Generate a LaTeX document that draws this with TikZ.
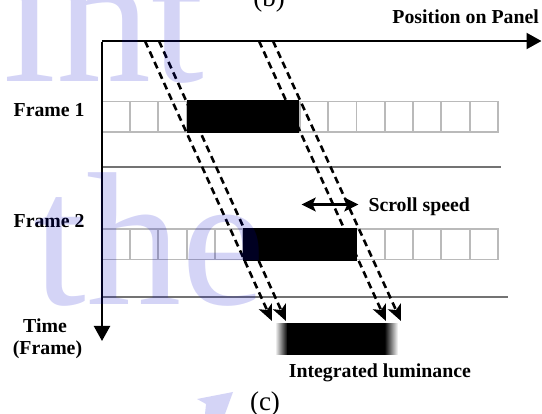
\documentclass[tikz,border=0pt]{standalone}
\usepackage{fontspec}
\setmainfont{Liberation Serif}
\usetikzlibrary{arrows.meta}

\begin{document}
\begin{tikzpicture}[x=1pt,y=-1pt,
  lbl/.style={font=\fontsize{19.8}{21}\selectfont\bfseries, inner sep=0pt},
  subcap/.style={font=\fontsize{27}{29}\selectfont, inner sep=0pt},
  axisline/.style={line width=2.2pt, -{Triangle[length=15pt,width=16pt]}},
  cellbox/.style={draw=black!27, line width=1.8pt},
  sepline/.style={draw=black!55, line width=2pt},
  blockbar/.style={fill=black, draw=none, inner sep=0pt, anchor=north west},
  track/.style={line width=2.6pt, dash pattern=on 7pt off 4.5pt,
    -{Stealth[length=16pt,width=14pt,inset=4pt]}},
  speedarrow/.style={line width=2.2pt,
    {Stealth[length=14pt,width=14pt,inset=3pt]}-{Stealth[length=14pt,width=14pt,inset=3pt]}},
  wmtext/.style={font=\fontsize{190}{190}\selectfont, text=blue!80!black,
    text opacity=0.17, inner sep=0pt},
]
\useasboundingbox (0,0) rectangle (542,414);

% separators between frames
\coordinate (s1a) at (102,166.7);
\coordinate (s1b) at (501,166.7);
\coordinate (s2a) at (102,296.7);
\coordinate (s2b) at (508,296.7);
\draw[sepline] (s1a) -- (s1b);
\draw[sepline] (s2a) -- (s2b);

% pixel rows of the panel
\foreach \i in {0,...,13}{
  \draw[cellbox] (101.7+\i*28.3,101.5) rectangle +(28.3,30.5);
  \draw[cellbox] (101.7+\i*28.3,229) rectangle +(28.3,30.5);
}

% moving image in each frame
\node[blockbar, minimum width=112.5pt, minimum height=33pt] (bar1) at (186.6,100.3) {};
\node[blockbar, minimum width=113.5pt, minimum height=33pt] (bar2) at (243,228) {};

% integrated luminance seen by the eye, with blurred edges
\shade[left color=white, right color=black] (275,323.3) rectangle (287.5,355);
\node[blockbar, minimum width=98pt, minimum height=31.7pt] (sum) at (287,323.3) {};
\shade[left color=black, right color=white] (384.5,323.3) rectangle (398,355);

% axes
\coordinate (origin) at (102,41);
\coordinate (xend) at (541.5,41);
\coordinate (yend) at (102,341);
\draw[axisline] (origin) -- (xend);
\draw[axisline] ([yshift=-1.1pt]origin) -- (yend);

% eye tracking lines
\coordinate (t1a) at (145,41);  \coordinate (t1b) at (272,321);
\coordinate (t2a) at (159,41);  \coordinate (t2b) at (286,321);
\coordinate (t3a) at (259,41);  \coordinate (t3b) at (386,321);
\coordinate (t4a) at (273,41);  \coordinate (t4b) at (401,321);
\draw[track] (t1a) -- (t1b);
\draw[track] (t2a) -- (t2b);
\draw[track] (t3a) -- (t3b);
\draw[track] (t4a) -- (t4b);

% scroll speed
\coordinate (sp1) at (301.7,204.5);
\coordinate (sp2) at (358.3,204.5);
\draw[speedarrow] (sp1) -- (sp2);

% labels
\node[lbl, anchor=base east] (pos) at (539,24) {Position on Panel};
\node[lbl, anchor=base west] (f1) at (13.5,116.7) {Frame 1};
\node[lbl, anchor=base west] (f2) at (13.5,227.3) {Frame 2};
\node[lbl, anchor=base] (time) at (45,333) {Time};
\node[lbl, anchor=base] (frm) at (47.5,355) {(Frame)};
\node[lbl, anchor=base west] (speed) at (368.3,211.5) {Scroll speed};
\node[lbl, anchor=base west] (lum) at (288.7,377.5) {Integrated luminance};
\node[subcap, anchor=base] (capb) at (269,7) {(b)};
\node[subcap, anchor=base] (capc) at (265,410.5) {(c)};

% watermark
\node[wmtext, anchor=base west] (wm1) at (3,82) {int};
\node[wmtext, anchor=base west] (wm2) at (33,305) {the};
\fill[blue!80!black, opacity=0.17] (197,399) -- (233,392) -- (225,414) -- (205,414) -- (206,404) -- cycle;
\end{tikzpicture}
\end{document}
